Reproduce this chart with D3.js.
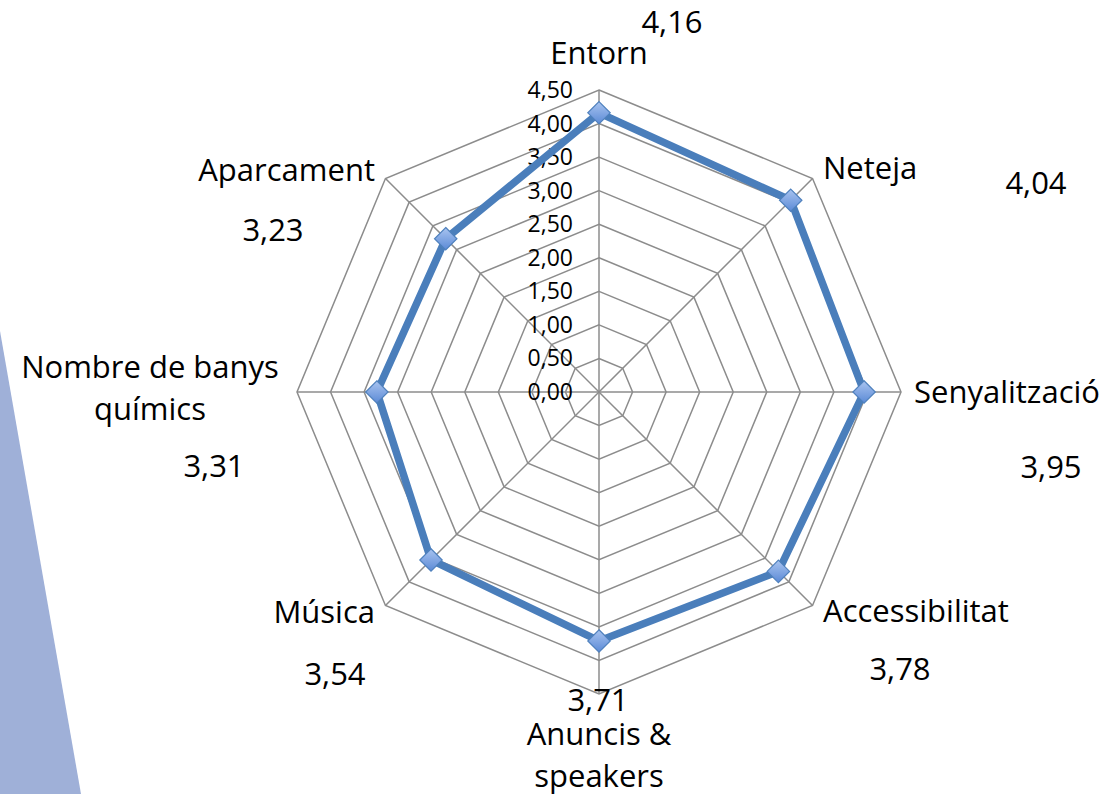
<!DOCTYPE html>
<meta charset="utf-8">
<style>
body { margin: 0; background: #fff; }
* { font-family: "Open Sans", Lato, sans-serif; }
.grid { fill: none; stroke: #8c8c8c; stroke-width: 1.5px; }
.line { fill: none; stroke: #4a7ebb; stroke-width: 7.5px; stroke-linejoin: round; }
.axislabel { font-size: 31px; fill: #000; }
.vallabel { font-size: 31px; fill: #000; }
.tick { font-size: 23px; fill: #000; }
</style>
<body>
<script src="https://cdn.jsdelivr.net/npm/d3@7"></script>
<script>

// categories (multi-line labels split with |)
var categories = ["Entorn", "Neteja", "Senyalització", "Accessibilitat",
                  "Anuncis &|speakers", "Música", "Nombre de banys|químics", "Aparcament"];
var values = [4.16, 4.04, 3.95, 3.78, 3.71, 3.54, 3.31, 3.23];
var valueLabels = ["4,16", "4,04", "3,95", "3,78", "3,71", "3,54", "3,31", "3,23"];
var tickValues = [0, 0.5, 1, 1.5, 2, 2.5, 3, 3.5, 4, 4.5];
var tickLabels = ["0,00", "0,50", "1,00", "1,50", "2,00", "2,50", "3,00", "3,50", "4,00", "4,50"];

var width = 1114, height = 794;
var cx = 599, cy = 392;

var r = d3.scaleLinear().domain([0, 4.5]).range([0, 302]);
var angle = d3.scaleLinear().domain([0, categories.length]).range([0, 2 * Math.PI]);

function pt(i, v) {
  var a = angle(i);
  return [Math.sin(a) * r(v), -Math.cos(a) * r(v)];
}

var svg = d3.select("body").append("svg")
    .attr("width", width)
    .attr("height", height);

// decorative slide shape at left
svg.append("path")
    .attr("d", "M0,331L81,794L0,794Z")
    .attr("fill", "#9fb0d8");

var g = svg.append("g").attr("transform", "translate(" + cx + "," + cy + ")");

// grid rings
tickValues.slice(1).forEach(function(t) {
  g.append("path")
      .attr("class", "grid")
      .attr("d", d3.line()(categories.map(function(c, i) { return pt(i, t); })) + "Z");
});

// spokes
categories.forEach(function(c, i) {
  var p = pt(i, 4.5);
  g.append("line").attr("class", "grid")
      .attr("x1", 0).attr("y1", 0).attr("x2", p[0]).attr("y2", p[1]);
});

// tick labels along top axis
tickValues.forEach(function(t, i) {
  g.append("text").attr("class", "tick")
      .attr("x", -26)
      .attr("y", -r(t) + 8)
      .attr("text-anchor", "end")
      .text(tickLabels[i]);
});

// series line
var pts = values.map(function(v, i) { return pt(i, v); });
g.append("path").attr("class", "line")
    .attr("d", d3.line()(pts) + "Z");

// markers
var defs = svg.append("defs");
var grad = defs.append("linearGradient").attr("id", "mk")
    .attr("x1", 0).attr("y1", 0).attr("x2", 0).attr("y2", 1);
grad.append("stop").attr("offset", "0%").attr("stop-color", "#a9c4f0");
grad.append("stop").attr("offset", "100%").attr("stop-color", "#5b8ad6");

g.selectAll(".mk").data(pts).enter().append("path")
    .attr("class", "mk")
    .attr("transform", function(d) { return "translate(" + d[0] + "," + d[1] + ")"; })
    .attr("d", d3.symbol().type(d3.symbolDiamond2).size(320))
    .attr("fill", "url(#mk)")
    .attr("stroke", "#4f81bd")
    .attr("stroke-width", 1.2);

// label layout: offsets from outer vertex
var labelPos = [
  {dx: 0, dy: -26, anchor: "middle"},
  {dx: 10.5, dy: 0.5, anchor: "start"},
  {dx: 13, dy: 11, anchor: "start"},
  {dx: 10.5, dy: 16.5, anchor: "start"},
  {dx: 0, dy: 51, anchor: "middle"},
  {dx: -10.5, dy: 17.5, anchor: "end"},
  {dx: -147, dy: -14, anchor: "middle"},
  {dx: -10.5, dy: 2.5, anchor: "end"}
];
var valuePos = [
  [672, 33], [1036, 194], [1051, 478], [900, 680],
  [598, 711], [335, 685], [214, 477], [273, 241]
];

categories.forEach(function(c, i) {
  var p = pt(i, 4.5), lp = labelPos[i];
  var t = g.append("text").attr("class", "axislabel")
      .attr("text-anchor", lp.anchor)
      .attr("x", p[0] + lp.dx)
      .attr("y", p[1] + lp.dy);
  c.split("|").forEach(function(line, k) {
    t.append("tspan")
        .attr("x", p[0] + lp.dx)
        .attr("dy", k === 0 ? 0 : 42)
        .text(line);
  });
});

svg.selectAll(".vallabel").data(valueLabels).enter().append("text")
    .attr("class", "vallabel")
    .attr("text-anchor", "middle")
    .attr("x", function(d, i) { return valuePos[i][0]; })
    .attr("y", function(d, i) { return valuePos[i][1]; })
    .text(function(d) { return d; });

</script>
</body>
</html>
